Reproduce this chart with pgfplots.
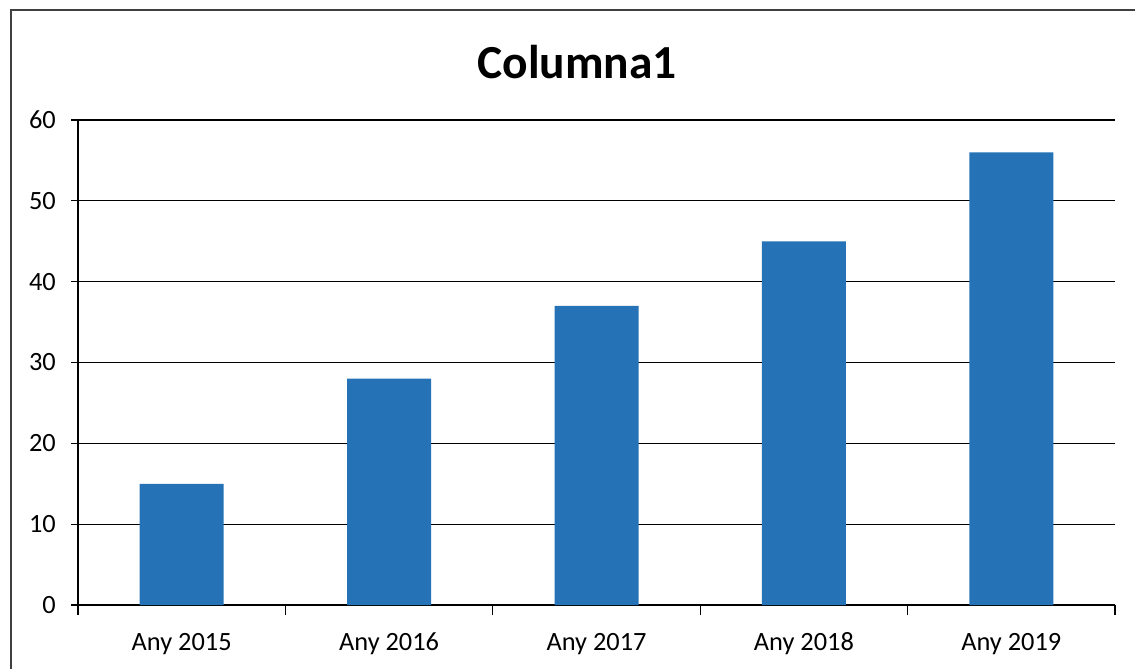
\documentclass[border=0pt]{standalone}
\usepackage{fontspec}
\setmainfont{Carlito}
\usepackage{pgfplots}
\pgfplotsset{compat=1.18}
\definecolor{barblue}{HTML}{2572B7}
\begin{document}
\begin{tikzpicture}
\useasboundingbox (0,0) rectangle (22.7cm,-13.36cm);
\draw[black!75, line width=0.8pt] (0.22cm,-14cm) -- (0.22cm,-0.2cm) -- (24cm,-0.2cm);
\node[font=\fontsize{27}{32}\selectfont\bfseries] at (11.54cm,-1.24cm) {Columna1};
\begin{axis}[
  at={(1.56cm,-12.1cm)}, anchor=south west,
  scale only axis, width=20.74cm, height=9.7cm,
  xmin=-0.5, xmax=4.5, ymin=0, ymax=60,
  axis x line*=bottom, axis y line*=left,
  axis line style={black, line width=0.7pt},
  xtick={0,1,2,3,4},
  xticklabels={Any 2015,Any 2016,Any 2017,Any 2018,Any 2019},
  major x tick style={draw=none},
  minor xtick={-0.5,0.5,1.5,2.5,3.5,4.5},
  minor tick length=0.2cm,
  minor x tick style={black, line width=0.7pt},
  ytick={0,10,...,60},
  major tick length=0.14cm,
  tick align=outside,
  ytick style={black, line width=0.7pt},
  ymajorgrids, grid style={black, line width=0.7pt},
  /pgf/number format/assume math mode=true,
  ticklabel style={font=\fontsize{15}{18}\selectfont},
  xticklabel style={yshift=-0.26cm, text height=11pt, text depth=3pt},
  yticklabel style={xshift=-0.18cm},
  ybar, bar width=1.68cm,
  clip=false,
]
\addplot[fill=barblue, draw=none] coordinates {(0,15) (1,28) (2,37) (3,45) (4,56)};
\end{axis}
\end{tikzpicture}
\end{document}
